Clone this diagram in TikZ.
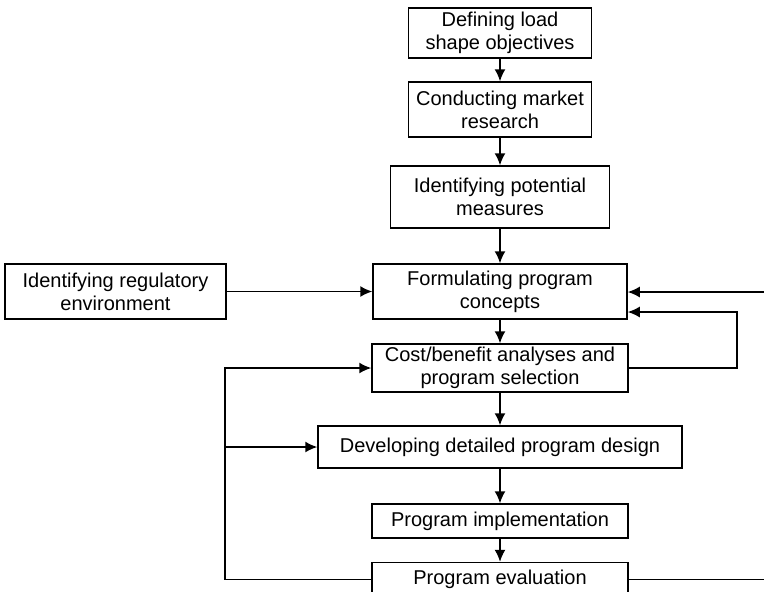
\documentclass[tikz,border=0pt]{standalone}
\usepackage{fontspec}
\setmainfont{Liberation Sans}
\usetikzlibrary{arrows.meta}
\usetikzlibrary{positioning}

\tikzset{
  stage/.style={draw, line width=0.75pt, align=center, inner sep=0pt,
    font=\fontsize{10}{11.5}\selectfont},
  flow/.style={line width=0.75pt, -{Latex[length=6pt,width=5.5pt]}},
  wire/.style={line width=0.75pt}
}

\begin{document}
\begin{tikzpicture}[x=0.5pt, y=-0.5pt]
  \useasboundingbox (0,0) rectangle (764,591);
  % main column
  \node[stage, minimum width=91.5pt, minimum height=25pt] (objectives) at (500,33) {Defining load\\shape objectives};
  \node[stage, minimum width=91.5pt, minimum height=27.5pt] (research) at (500,109.5) {Conducting market\\research};
  \node[stage, minimum width=109.5pt, minimum height=31pt] (measures) at (500,197) {Identifying potential\\measures};
  \node[stage, minimum width=127pt, minimum height=27.5pt] (concepts) at (500,291.5) {Formulating program\\concepts};
  \node[stage, minimum width=110.5pt, minimum height=27.5pt] (regulatory) at (115.5,291.5) {Identifying regulatory\\environment};
  \node[stage, minimum width=128pt, minimum height=24pt] (selection) at (500,368) {Cost/benefit analyses and\\program selection};
  \node[stage, minimum width=182pt, minimum height=21pt] (design) at (500,447) {Developing detailed program design};
  \node[stage, minimum width=128pt, minimum height=17pt] (implement) at (500,521) {Program implementation};
  \node[stage, minimum width=128pt, minimum height=17pt] (evaluation) at (500,579.5) {Program evaluation};

  % loose ends at the right border
  \coordinate (fromright) at (764,292);
  \coordinate (toright) at (764,579.5);
  \coordinate (backright) at (737,312);
  \coordinate (backleft) at (225,368);

  \draw[flow] (objectives) -- (research);
  \draw[flow] (research) -- (measures);
  \draw[flow] (measures) -- (concepts);
  \draw[flow] (concepts) -- (selection);
  \draw[flow] (selection) -- (design);
  \draw[flow] (design) -- (implement);
  \draw[flow] (implement) -- (evaluation);
  \draw[flow] (regulatory) -- (concepts);
  \draw[flow] (fromright) -- (concepts.east |- fromright);
  \draw[flow] (selection.east) -| (backright) -- (concepts.east |- backright);
  \draw[flow] (evaluation.west) -| (backleft) -- (selection.west);
  \draw[flow] (backleft |- design.west) -- (design.west);
  \draw[wire] (evaluation.east) -- (toright);
\end{tikzpicture}
\end{document}
